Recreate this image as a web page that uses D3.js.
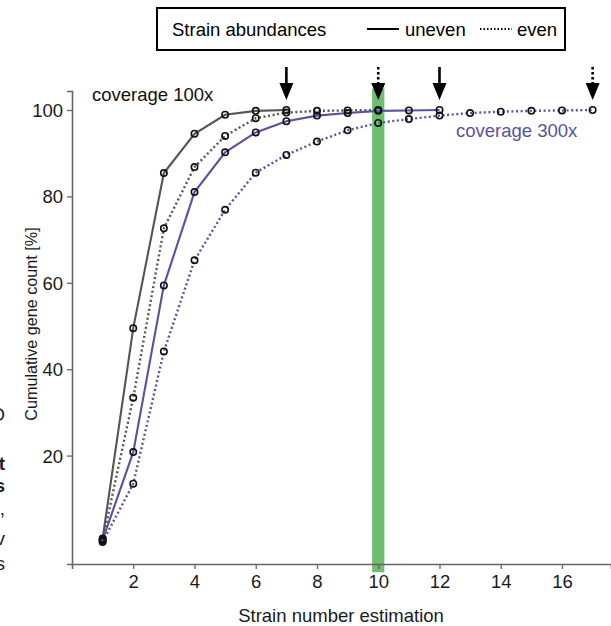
<!DOCTYPE html>
<html>
<head>
<meta charset="utf-8">
<script src="https://cdn.jsdelivr.net/npm/d3@7"></script>
<style>
    body { margin: 0; background: #fff; }
    svg text { font-family: "Liberation Sans", Arial, sans-serif; }
</style>
</head>
<body>
<svg id="chart" width="611" height="626"></svg>
<script>
// cumulative gene count [%] per strain number estimation (x = 1, 2, 3, ...)
var cov100Uneven = [0.8, 49.5, 85.4, 94.5, 98.9, 99.8, 100];
var cov100Even = [0.3, 33.4, 72.6, 86.8, 94.0, 98.1, 99.4, 99.8, 99.9, 100];
var cov300Uneven = [0.5, 20.8, 59.4, 81.0, 90.2, 94.8, 97.4, 98.7, 99.3, 99.8, 99.9, 100];
var cov300Even = [0, 13.5, 44.1, 65.2, 76.9, 85.5, 89.6, 92.7, 95.3, 97.0, 97.9, 98.7, 99.3, 99.6, 99.8, 99.9, 100];

var xTicks = [2, 4, 6, 8, 10, 12, 14, 16];
var yTicks = [20, 40, 60, 80, 100];
var trueStrains = 10;

// cut-off text of the neighbouring panel at the left edge
var edgeBits = [["O", 421, false], ["t", 470, true], ["s", 492, true], ["s,", 515, false], ["v", 545, false], ["s", 570, false]];

var GRAY = "#555555", BLUE = "#5454a0";

var series = [
    { values: cov100Uneven, color: GRAY, dashed: false },
    { values: cov100Even, color: GRAY, dashed: true },
    { values: cov300Uneven, color: BLUE, dashed: false },
    { values: cov300Even, color: BLUE, dashed: true }
];

var svg = d3.select("#chart");

var x = d3.scaleLinear().domain([0, 17.6]).range([72, 611]);
var y = d3.scaleLinear().domain([-5.1, 104.4]).range([564, 91]);

// green band at the true strain number
svg.append("rect")
    .attr("x", x(trueStrains - 0.2))
    .attr("width", x(trueStrains + 0.2) - x(trueStrains - 0.2))
    .attr("y", y(105))
    .attr("height", y(-7) - y(105))
    .attr("fill", "#6fbd6f");

// axes
var xAxis = svg.append("g")
    .attr("transform", "translate(0,564)")
    .call(d3.axisBottom(x).tickValues(xTicks).tickSizeOuter(0).tickSize(5).tickPadding(6));
var yAxis = svg.append("g")
    .attr("transform", "translate(72,0)")
    .call(d3.axisLeft(y).tickValues(yTicks).tickSizeOuter(0).tickSize(5).tickPadding(4));

[xAxis, yAxis].forEach(function (a) {
    a.select(".domain").attr("stroke", "#666").attr("stroke-width", 1.6);
    a.selectAll(".tick line").attr("stroke", "#666").attr("stroke-width", 1.3);
    a.selectAll(".tick text")
        .attr("fill", "#1a1a1a")
        .style("font-size", "18.5px")
        .style("font-family", "Liberation Sans, Arial, sans-serif");
});
yAxis.selectAll(".tick text").attr("dy", "0.35em");

// lines
var line = d3.line()
    .x(function (d, i) { return x(i + 1); })
    .y(function (d) { return y(d); });

series.forEach(function (s) {
    svg.append("path")
        .datum(s.values)
        .attr("d", line)
        .attr("fill", "none")
        .attr("stroke", s.color)
        .attr("stroke-width", s.dashed ? 2.4 : 2.1)
        .attr("stroke-dasharray", s.dashed ? "2,2.6" : null);
});

series.forEach(function (s) {
    svg.append("g")
        .selectAll("circle")
        .data(s.values)
        .enter()
        .append("circle")
        .attr("cx", function (d, i) { return x(i + 1); })
        .attr("cy", function (d) { return y(d); })
        .attr("r", 3.2)
        .attr("fill", "none")
        .attr("stroke", "#111")
        .attr("stroke-width", 1.6);
});

// arrows at the point where each curve reaches 100%
function drawArrow(g, cx, dashed) {
    var top = 67, tip = 100, headLen = 17, half = 7;
    g.append("line")
        .attr("x1", cx).attr("x2", cx)
        .attr("y1", top).attr("y2", tip - headLen + 2)
        .attr("stroke", "#000")
        .attr("stroke-width", 2.6)
        .attr("stroke-dasharray", dashed ? "2.5,2.5" : null);
    g.append("path")
        .attr("d", "M" + (cx - half) + "," + (tip - headLen) + "L" + (cx + half) + "," + (tip - headLen) + "L" + cx + "," + tip + "Z")
        .attr("fill", "#000");
}
var arrows = svg.append("g");
series.forEach(function (s) {
    drawArrow(arrows, x(s.values.length), s.dashed);
});

// annotations
svg.append("text")
    .attr("x", 92).attr("y", 101)
    .style("font-size", "18.5px")
    .attr("fill", "#111")
    .text("coverage 100x");
svg.append("text")
    .attr("x", 456).attr("y", 137)
    .style("font-size", "18.5px")
    .attr("fill", BLUE)
    .text("coverage 300x");

// axis titles
svg.append("text")
    .attr("x", 341).attr("y", 622)
    .attr("text-anchor", "middle")
    .style("font-size", "18.5px")
    .attr("fill", "#1a1a1a")
    .text("Strain number estimation");
svg.append("text")
    .attr("transform", "translate(37,324) rotate(-90)")
    .attr("text-anchor", "middle")
    .style("font-size", "16.2px")
    .attr("fill", "#1a1a1a")
    .text("Cumulative gene count [%]");

svg.append("g")
    .selectAll("text")
    .data(edgeBits)
    .enter()
    .append("text")
    .attr("x", 5)
    .attr("y", function (d) { return d[1]; })
    .attr("text-anchor", "end")
    .style("font-size", "19px")
    .style("font-weight", function (d) { return d[2] ? "bold" : "normal"; })
    .attr("fill", "#222")
    .text(function (d) { return d[0]; });

// legend
var legend = svg.append("g");
legend.append("rect")
    .attr("x", 157).attr("y", 8)
    .attr("width", 408).attr("height", 42)
    .attr("fill", "#fff")
    .attr("stroke", "#000")
    .attr("stroke-width", 2);
legend.append("text")
    .attr("x", 172).attr("y", 36)
    .style("font-size", "18.5px")
    .text("Strain abundances");
legend.append("line")
    .attr("x1", 367).attr("x2", 399).attr("y1", 29).attr("y2", 29)
    .attr("stroke", "#000").attr("stroke-width", 2);
legend.append("text")
    .attr("x", 405).attr("y", 36)
    .style("font-size", "18.5px")
    .text("uneven");
legend.append("line")
    .attr("x1", 480).attr("x2", 512).attr("y1", 29).attr("y2", 29)
    .attr("stroke", "#000").attr("stroke-width", 2)
    .attr("stroke-dasharray", "1.5,2");
legend.append("text")
    .attr("x", 517).attr("y", 36)
    .style("font-size", "18.5px")
    .text("even");
</script>
</body>
</html>
